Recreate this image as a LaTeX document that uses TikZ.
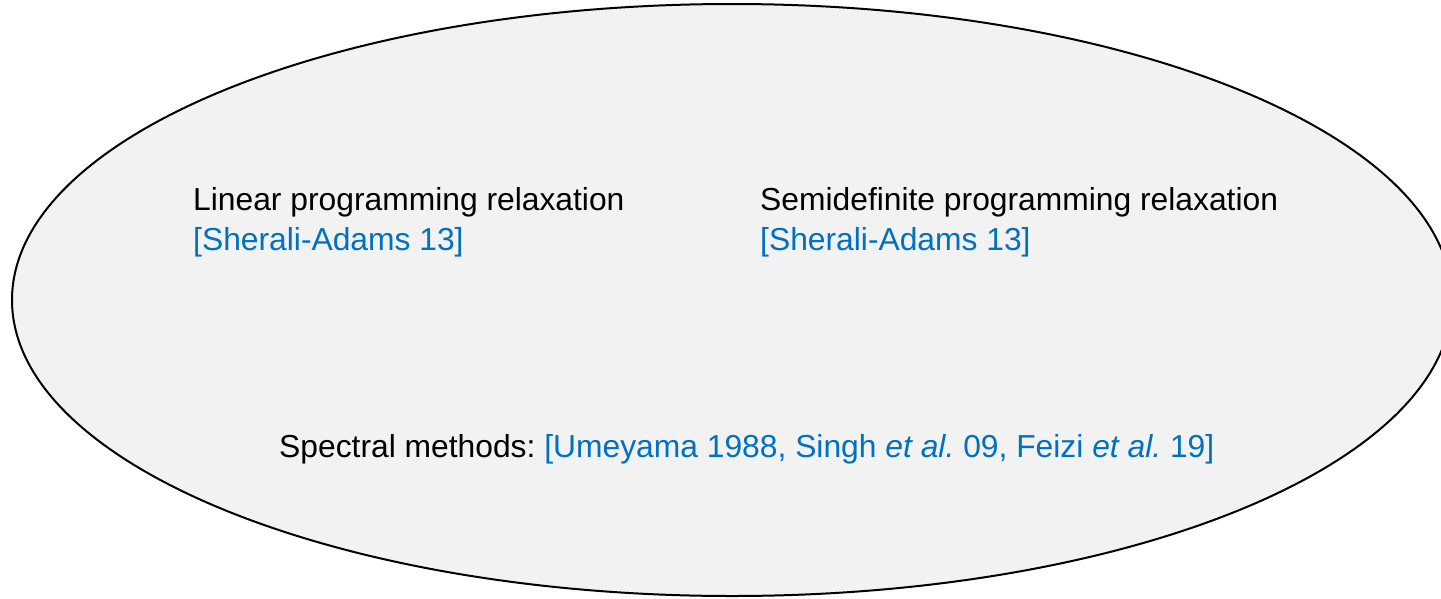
\documentclass[tikz,border=0pt]{standalone}
\usepackage{fontspec}
\setmainfont{Liberation Sans}
\definecolor{refblue}{HTML}{0070C0}
\definecolor{ellfill}{HTML}{F2F2F2}
\frenchspacing
\begin{document}
\begin{tikzpicture}[x=1pt,y=-1pt,
  txt/.style={inner sep=0pt,anchor=base west,font=\fontsize{31.8}{38}\selectfont},
  cite/.style={txt,text=refblue},
  region/.style={draw=black,line width=2pt,fill=ellfill}]
\useasboundingbox (0,0) rectangle (1441,598);
\clip (0,0) rectangle (1441,598);
\path[region] (732,300) ellipse [x radius=720, y radius=296];
\node[txt]  (lp)   at (193,210) {Linear programming relaxation};
\node[cite] (lpc)  at (193,250) {[Sherali-Adams 13]};
\node[txt]  (sdp)  at (760,210) {Semidefinite programming relaxation};
\node[cite] (sdpc) at (760,250) {[Sherali-Adams 13]};
\node[txt]  (spec) at (279,457) {Spectral methods: \textcolor{refblue}{[Umeyama 1988, Singh \textit{et al.}\ 09, Feizi \textit{et al.}\ 19]}};
\end{tikzpicture}
\end{document}
